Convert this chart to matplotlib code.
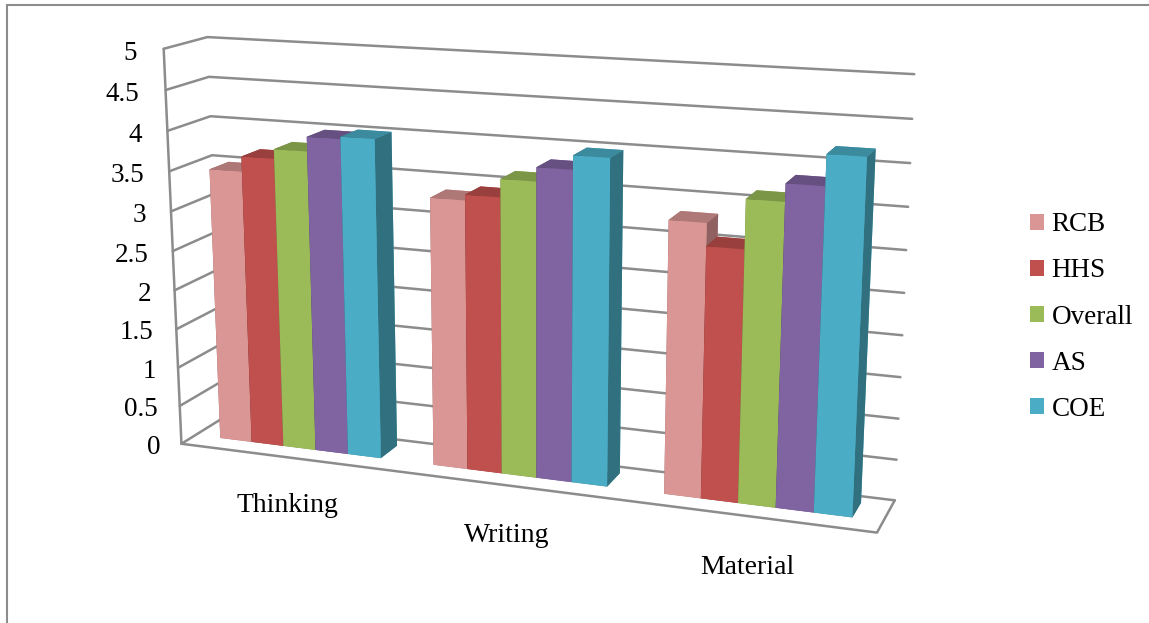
import numpy as np
import matplotlib
matplotlib.use("Agg")
import matplotlib.pyplot as plt
from matplotlib.patches import Patch, Rectangle
from mpl_toolkits.mplot3d import proj3d

plt.rcParams['font.family'] = ['Liberation Serif', 'DejaVu Serif']

categories = ['Thinking', 'Writing', 'Material']
series_names = ['RCB', 'HHS', 'Overall', 'AS', 'COE']
rcb = [3.48, 3.34, 3.30]
hhs = [3.67, 3.41, 3.03]
overall = [3.79, 3.63, 3.61]
as_vals = [3.97, 3.80, 3.82]
coe = [4.00, 3.97, 4.18]
all_series = [rcb, hhs, overall, as_vals, coe]

front_colors = ['#DA9694', '#C0504D', '#9BBB59', '#8064A2', '#4BACC6']
top_colors = ['#AE7876', '#993F3D', '#7C9647', '#665082', '#3C8A9E']
side_colors = ['#8F6261', '#7E3432', '#667B3A', '#54426A', '#31717F']
y_ticks = np.arange(0, 5.5, 0.5)
y_labels = ['0', '0.5', '1', '1.5', '2', '2.5', '3', '3.5', '4', '4.5', '5']

W, H = 1149, 623
FONT = 19.5
fig = plt.figure(figsize=(W/100, H/100), dpi=100)

# outer chart border
fig.add_artist(Rectangle((7/W, -0.01), 1.1, 1 - 5/H + 0.01, transform=fig.transFigure,
                         fill=False, edgecolor='#8c8c8c', linewidth=1.5))

side = 836.14
ax = fig.add_axes([94.32/W, -77.51/H, side/W, side/H], projection='3d', computed_zorder=False)
ax.set_xlim(0, 3, view_margin=0)
ax.set_ylim(0, 1, view_margin=0)
ax.set_zlim(0, 5, view_margin=0)
ax.view_init(elev=14.359, azim=-69.704, roll=0.088)
ax.set_proj_type('persp', focal_length=0.4569)
ax.set_box_aspect((1, 0.1226, 0.5679))
ax.set_axis_off()
ax.patch.set_alpha(0)

grid = dict(color='#8c8c8c', linewidth=1.8, zorder=1, solid_capstyle='round')

# walls: one gridline per tick on the left and back sides
for t in y_ticks:
    ax.plot([0, 0, 3], [0, 1, 1], [t, t, t], **grid)
ax.plot([0, 0], [0, 0], [0, 5], **grid)
ax.plot([0, 3, 3], [0, 0, 1], [0, 0, 0], **grid)

bar_w = 0.152
bar_depth = 0.46
y0 = 0.34
order = 0
for c in range(len(categories)):
    start = c + 0.5 - bar_w*len(all_series)/2
    for s, vals in enumerate(all_series):
        faces = [top_colors[s], top_colors[s], front_colors[s],
                 front_colors[s], side_colors[s], side_colors[s]]
        order += 1
        ax.bar3d(start + s*bar_w, y0, 0, bar_w, bar_depth, vals[c], color=faces,
                 shade=False, zorder=10 + order, linewidth=0)

# value labels sit just outside the front edge of the left wall
M = ax.get_proj()
for t, lab in zip(y_ticks, y_labels):
    x2, y2, _ = proj3d.proj_transform(-0.105 - 0.0044*t, 0, t - 0.08, M)
    ax.text2D(x2, y2, lab, transform=ax.transData, ha='right', va='center',
              fontsize=FONT, color='black')

cat_px = [(287, 506), (507, 535), (747, 567)]
for name, (px, py) in zip(categories, cat_px):
    fig.text(px/W, 1 - py/H, name, ha='center', va='center', fontsize=20, color='black')

handles = [Patch(facecolor=col, edgecolor='none') for col in front_colors]
fig.legend(handles, series_names, loc='center left', bbox_to_anchor=(1030/W, 1 - 317/H),
           frameon=False, fontsize=FONT, handlelength=0.52, handleheight=0.55,
           handletextpad=0.27, labelspacing=0.78, borderpad=0, borderaxespad=0)

fig.savefig("out.png", dpi=100)
